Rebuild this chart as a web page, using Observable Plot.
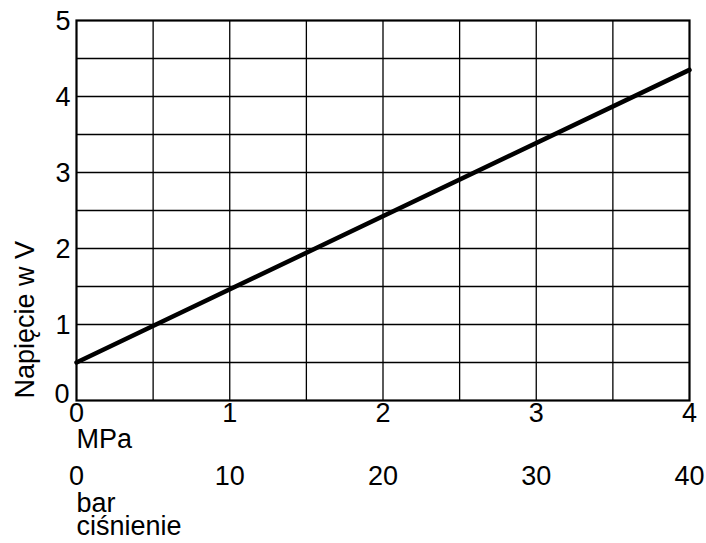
<!DOCTYPE html>
<html><head><meta charset="utf-8">
<script src="https://cdn.jsdelivr.net/npm/d3@7"></script>
<script src="https://cdn.jsdelivr.net/npm/@observablehq/plot@0.6"></script>
<style>body{margin:0;background:#fff}</style>
</head><body><div id="chart"></div>
<script>
const pressureMPa = [0, 4];
const voltage = [0.5, 4.35];
const mpaTicks = [0, 1, 2, 3, 4];
const barTicks = [0, 10, 20, 30, 40];
const voltTicks = [1, 2, 3, 4, 5];
const voltZero = [0];
const gridX = [0.5, 1, 1.5, 2, 2.5, 3, 3.5];
const gridY = [0.5, 1, 1.5, 2, 2.5, 3, 3.5, 4, 4.5];
const mpaLabel = "MPa";
const barLabel = "bar";
const pressureLabel = "ciśnienie";
const yLabel = "Napięcie w V";

const points = pressureMPa.map((p, i) => ({p, v: voltage[i]}));
const font = "Liberation Sans, Arial, sans-serif";
const fs = 27;

const chart = Plot.plot({
  width: 706,
  height: 543,
  marginLeft: 76,
  marginRight: 17,
  marginTop: 20,
  marginBottom: 143,
  style: {fontFamily: font, background: "#fff", color: "#000"},
  x: {domain: [0, 4], axis: null},
  y: {domain: [0, 5], axis: null},
  marks: [
    Plot.ruleX(gridX, {x: d => d, stroke: "#000", strokeWidth: 1.3}),
    Plot.ruleY(gridY, {y: d => d, stroke: "#000", strokeWidth: 1.3}),
    Plot.frame({stroke: "#000", strokeWidth: 2.2}),
    Plot.line(points, {x: "p", y: "v", stroke: "#000", strokeWidth: 4.5}),
    Plot.text(voltTicks, {y: d => d, text: d => String(d), frameAnchor: "left", textAnchor: "end", dx: -6, dy: 1, fontSize: fs, fill: "#000"}),
    Plot.text(voltZero, {y: d => d, text: d => String(d), frameAnchor: "left", textAnchor: "end", dx: -7, dy: -6, fontSize: fs, fill: "#000"}),
    Plot.text(mpaTicks, {x: d => d, text: d => String(d), frameAnchor: "bottom", dy: 21, fontSize: fs, fill: "#000"}),
    Plot.text([mpaLabel], {x: () => 0, text: d => d, frameAnchor: "bottom", textAnchor: "start", dy: 47, fontSize: fs, fill: "#000"}),
    Plot.text(barTicks, {x: d => d / 10, text: d => String(d), frameAnchor: "bottom", dy: 84, fontSize: fs, fill: "#000"}),
    Plot.text([barLabel], {x: () => 0, text: d => d, frameAnchor: "bottom", textAnchor: "start", dy: 111, fontSize: fs, fill: "#000"}),
    Plot.text([pressureLabel], {x: () => 0, text: d => d, frameAnchor: "bottom", textAnchor: "start", dy: 134, fontSize: fs, fill: "#000"}),
    Plot.text([yLabel], {text: d => d, frameAnchor: "bottom-left", textAnchor: "start", rotate: -90, dx: -43, dy: -2, fontSize: fs, fill: "#000"})
  ]
});
document.getElementById("chart").appendChild(chart);
</script>
</body></html>
